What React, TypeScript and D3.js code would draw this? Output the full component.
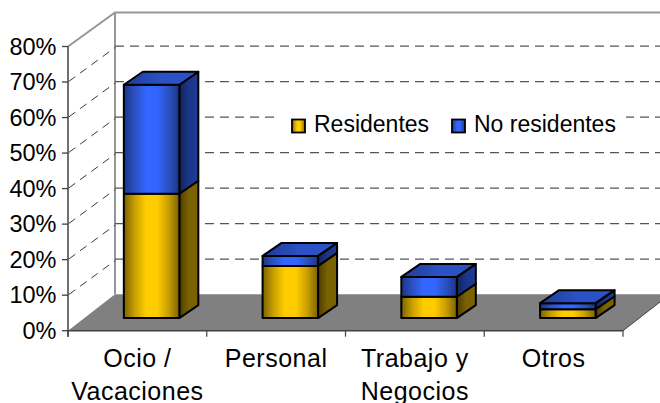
import React from "react";
import * as d3 from "d3";

const categories = ["Ocio / Vacaciones", "Personal", "Trabajo y Negocios", "Otros"];
const categoryLines = [["Ocio /", "Vacaciones"], ["Personal"], ["Trabajo y", "Negocios"], ["Otros"]];
const residentes = [35, 14.7, 6, 2.5];
const noResidentes = [30.7, 2.8, 5.6, 1.7];
const yTicks = [0, 10, 20, 30, 40, 50, 60, 70, 80];
const seriesNames = ["Residentes", "No residentes"];

const FONT = "'Liberation Sans', Arial, sans-serif";
const W = 660, H = 403;
const X0 = 68, X1 = 623, Y0 = 330.7, Y80 = 46.5;
const DX = 47, DY = -34.5;
const BDX = 14.2, BDY = -12.6, BW = 19, BH = -13;

const x = d3.scaleBand<string>().domain(categories).range([X0, X1]).paddingInner(0.6).paddingOuter(0.3);
const y = d3.scaleLinear().domain([0, 80]).range([Y0, Y80]);
const poly = (pts: number[][]) => (d3.line()(pts as [number, number][]) ?? "") + "Z";

function Seg({ name, v0, v1, fr, side }: { name: string; v0: number; v1: number; fr: string; side: string }) {
  const xl = x(name)! + BDX;
  const xr = xl + x.bandwidth();
  const yb = y(v0) + BDY;
  const yt = y(v1) + BDY;
  return (
    <g stroke="#000" strokeWidth={2} strokeLinejoin="round">
      <path d={poly([[xr, yb], [xr + BW, yb + BH], [xr + BW, yt + BH], [xr, yt]])} fill={`url(#${side})`} />
      <rect x={xl} y={yt} width={xr - xl} height={yb - yt} fill={`url(#${fr})`} />
    </g>
  );
}

function Grad({ id, stops }: { id: string; stops: string[] }) {
  return (
    <linearGradient id={id} x1="0" x2="1" y1="0" y2="0">
      {stops.map((c, i) => (
        <stop key={i} offset={i / (stops.length - 1)} stopColor={c} />
      ))}
    </linearGradient>
  );
}

export default function App() {
  const legendY = 124.5;
  return (
    <svg width={W} height={H} style={{ position: "absolute", left: 0, top: 0, background: "#fff" }} fontFamily={FONT}>
      <defs>
        <Grad id="yf" stops={["#7a6200", "#c9a000", "#ffcc00", "#ffcc00", "#c9a000", "#7a6200"]} />
        <Grad id="bf" stops={["#1b3588", "#2a52c4", "#3366ff", "#3366ff", "#2a52c4", "#1b3588"]} />
        <Grad id="ys" stops={["#4d3d00", "#7a6200", "#7a6200"]} />
        <Grad id="bs" stops={["#12245c", "#1b3588", "#1f3c96"]} />
        <Grad id="bt" stops={["#1f3c96", "#2a52c4", "#2a52c4"]} />
      </defs>

      {/* floor */}
      <path d={poly([[X0, Y0], [X1, Y0], [X1 + DX, Y0 + DY - 2], [X0 + DX, Y0 + DY - 2]])} fill="#808080" />

      {/* walls */}
      <path d={`M${X0},${Y80}L${X0 + DX},12.5L${W},12.5`} fill="none" stroke="#969696" strokeWidth={2} />
      <line x1={X0 + DX} x2={X0 + DX} y1={12.5} y2={Y0 + DY - 2} stroke="#969696" strokeWidth={2} />

      {/* back wall grid */}
      {yTicks.slice(1, -1).map((t) => (
        <line key={t} x1={X0 + DX} x2={W} y1={y(t) - 36} y2={y(t) - 36} stroke="#555" strokeWidth={1.3} strokeDasharray="9 6" />
      ))}

      {/* side wall grid */}
      {yTicks.slice(1, -1).map((t) => (
        <line key={t} x1={X0} x2={X0 + DX} y1={y(t)} y2={y(t) + DY} stroke="#222" strokeWidth={0.9} strokeDasharray="8 6" strokeDashoffset={-1} />
      ))}

      {/* axes */}
      <line x1={X0} x2={X0} y1={Y80} y2={Y0 + 6} stroke="#404040" strokeWidth={1.5} />
      <line x1={X0} x2={X1} y1={Y0} y2={Y0} stroke="#404040" strokeWidth={1.5} />
      <line x1={X1} x2={X1 + DX} y1={Y0} y2={Y0 + DY - 2} stroke="#404040" strokeWidth={1} />
      {yTicks.map((t) => (
        <g key={t}>
          <line x1={X0 - 6} x2={X0} y1={y(t)} y2={y(t)} stroke="#404040" strokeWidth={1.3} />
          <text x={56.5} y={y(t) + 8} textAnchor="end" fontSize={23.5} fill="#000">{t}%</text>
        </g>
      ))}
      {categories.map((_, i) => {
        const tx = X0 + ((X1 - X0) / categories.length) * i;
        return <line key={i} x1={tx} x2={tx} y1={Y0} y2={Y0 + 6} stroke="#404040" strokeWidth={1.2} />;
      })}
      <line x1={X1} x2={X1} y1={Y0} y2={Y0 + 6} stroke="#404040" strokeWidth={1.2} />

      {/* legend background */}
      <rect x={277} y={104} width={349} height={40} fill="#fff" />

      {/* bars */}
      {categories.map((c, i) => {
        const a = residentes[i];
        const b = a + noResidentes[i];
        const xl = x(c)! + BDX;
        const xr = xl + x.bandwidth();
        const yt = y(b) + BDY;
        return (
          <g key={c}>
            <Seg name={c} v0={0} v1={a} fr="yf" side="ys" />
            <Seg name={c} v0={a} v1={b} fr="bf" side="bs" />
            <path d={poly([[xl, yt], [xl + BW, yt + BH], [xr + BW, yt + BH], [xr, yt]])} fill="url(#bt)" stroke="#000" strokeWidth={2} strokeLinejoin="round" />
          </g>
        );
      })}

      {/* category labels */}
      {categoryLines.map((lines, i) => {
        const cx = X0 + ((X1 - X0) / categories.length) * (i + 0.5);
        return lines.map((l, j) => (
          <text key={l} x={cx} y={366.5 + j * 33.5} textAnchor="middle" fontSize={25} letterSpacing={0.5} fill="#000">{l}</text>
        ));
      })}

      {/* legend */}
      {seriesNames.map((s, i) => {
        const lx = [292, 452][i];
        const tx = [314, 474][i];
        return (
          <g key={s}>
            <rect x={lx} y={legendY - 5} width={13} height={13} fill={i === 0 ? "url(#yf)" : "url(#bf)"} stroke="#000" strokeWidth={1.8} />
            <text x={tx} y={legendY + 7.5} fontSize={23} fill="#000">{s}</text>
          </g>
        );
      })}
    </svg>
  );
}
